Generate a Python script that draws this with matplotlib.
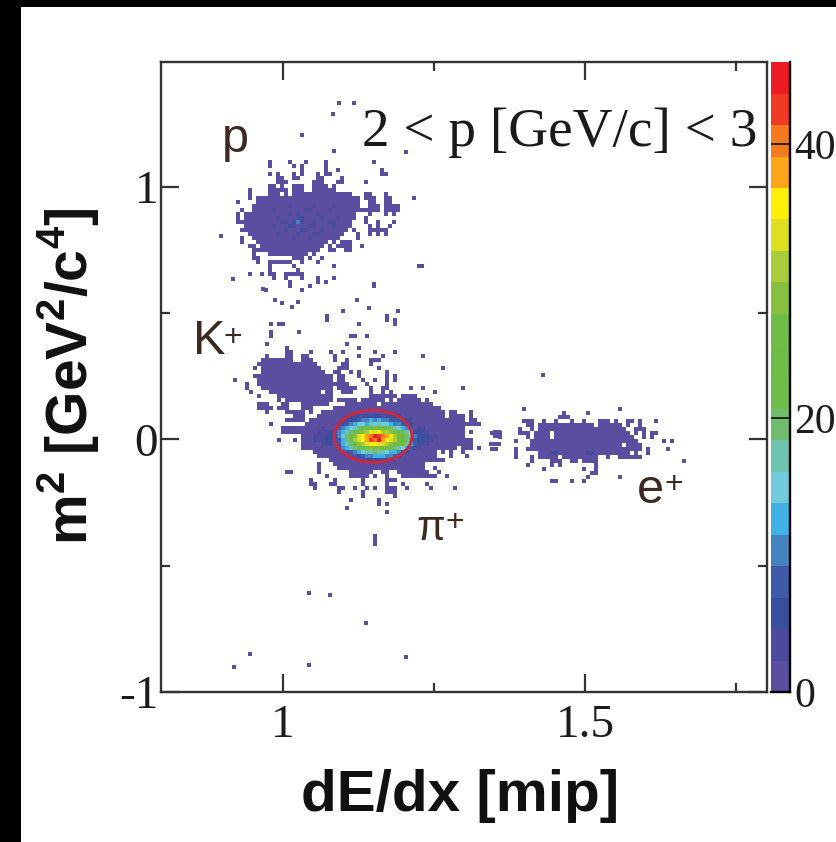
import numpy as np
import matplotlib
matplotlib.use("Agg")
import matplotlib.pyplot as plt
from matplotlib.colors import ListedColormap, BoundaryNorm
from matplotlib.patches import Ellipse, Rectangle

W, H = 837, 842
plt.rcParams['mathtext.fontset'] = 'custom'
plt.rcParams['mathtext.bf'] = 'Liberation Sans:bold'
plt.rcParams['mathtext.rm'] = 'Liberation Sans:bold'

# Colour scale (bottom to top), z axis 0..46
palette = ['#5B4DA0', '#4B4A9E', '#3A4EA0', '#3E5AA8', '#4582C0', '#3FB1E6', '#72CBDC',
           '#6FC4AF', '#70BD6F', '#6DBD48', '#6DBD45', '#6FBD44', '#88BF40', '#A8CC3A',
           '#DEDF20', '#FFEE07', '#FBA51A', '#F47A20', '#EF3A24', '#ED1C24']
z_max = 46.0
z_ticks = [0, 20, 40]

bin_dx = 4 / 604
bin_dy = 4 / 252.5

# Occupied histogram bins, row by row from the top.
# "a-b" = run of lowest-level bins, "a" = single bin, "a=levels" = bins with base-36 level.
proton_origin = (0.9222, 1.1208)
proton_rows = [
    "", "8 13 17 22 34", "8 14 16 22", "16 22 25 36", "8 10 14 16 20 22-23 36-37",
    "10-11 14-15 20-21 26", "10-11 12 19-20 21 25-26 32",
    "8-9 11 14-16 19-22 24", "3 8-12 14-16 19-23 24",
    "3 8-10 12 14-27 28 32-33 37", "3 5-30 32-34 37-38 44", "0 5-30 33-34 37-38",
    "4-30 33-35 37-40 12=01 19=1 24=1", "1 4-30 31-35 37-40 9=1 17=11 23=1",
    "0 2-29 33 37 39 12=0101 20=1", "0 2-29 32 10=1 15=12 21=1 25=1",
    "0-1 2-28 32 35 39 11=11 14=141 19=1 23=11",
    "2-28 33 35 38 9=1 13=21 18=11 24=1", "1-27 29 33-34 35-36 37 12=1 16=21 21=1",
    "3-26 30 33 35 37 10=1 15=1 19=11", "1 4-25 30 14=1 18=1",
    "1 5-22 24 26-28", "3-4 6-21 23 25-28 31", "4 5-20 23-24 27-28",
    "4 8-17 19", "4-5 14-16 18 21", "5 8-13 16 20", "8 14 24 46", "8 15",
    "3 6 8-9 12-16", "9 12 16 20 24", "13 20 22", "13 18 34", "7 16",
]
pion_origin = (0.9106, 0.4950)
pion_rows = [
    "24 39", "24 39 41", "10 12-13 32 41", "", "10 17", "10 30-31 34", "", "9 29",
    "14 32", "14-15 20 25 28 36 41", "9 14-15 18-19 26 32 38 48",
    "8-15 18-20 26 29 35-37", "7-21 28-29 35", "6 8-22 27-29 37 53",
    "8-23 26-27 30 32 39", "6-25 27-28 32 39 41", "1 7-25 27-28 33 36 39 41",
    "4 7-25 26-29 34 39", "4 8-25 27-31 35 38-39 45 48 58",
    "5 10-22 24-25 28-30 35 38 40 51", "7 12-25 35-37 38-41 43-46",
    "12 14 15-25 27-31 33-38 40 42-47 49",
    "7-9 13 14 18-24 29-36 38-48 49-50", "7-10 12-14 18-20 26-51 52",
    "9 14-18 20 23-52 53 55-56 60",
    "16-18 22-53 55-58 60 30=1121212211212",
    "14-18 20-58 60-61 29=12234454544333221",
    "10 19-59 60-62 28=234566576766544322",
    "13-18 19-58 23=1 27=3456789a9ba99876543 47=11",
    "13-58 60 66 67 22=11123 27=4578abcdeefddcba876 46=2211",
    "18-58 66 67 21=1112223 27=468acefghjihgfdba864 47=22211",
    "12 16 18-60 21=111222 27=358adefgihjgfedba853 47=2211",
    "18-56 57-60 65-67 23=112 27=3578acdeffeedcba9753 47=111",
    "18-56 58-60 62 28=45789abcbcba987653 46=11",
    "21-51 53 55 58 30=345677877655432", "22-51 55 59 32=23445554432",
    "25-53 33=1122211", "22 26-48", "22 27-48 51",
    "14-15 22 30-34 35 38-39 42-49 52", "24 30-34 36 39 43-51 54",
    "20 26 33 39-41", "20-21 25-26 33 39 43 49", "21 27-28 31 34 36 39-41 44 50 56",
    "27 33 39-41", "33 41", "30 37", "37 39", "29", "39",
    "", "", "", "", "", "36", "36", "36",
]
positron_origin = (1.3427, 0.1280)
positron_rows = [
    "8 32", "18 24", "17 18-19", "8-10 13 16 20 23 27-29 31 34-35 37 41",
    "9-10 12-14 15 16-21 22-25 27-32 34 37", "7 10 12-14 15-33 36-38",
    "0 2 7-9 11-14 16-34 36 38 40-41", "2 9 11-14 16-35 38 40",
    "6 10-36 43 45", "10-32 34-37", "0-1 6 9-37 39 44",
    "6 12-24 25-34 36 39 15=12 24=12", "6 10 12-16 18-26 29 32-37",
    "10 15-17 20-21 23-26 48", "9 15 17 26", "13 23 26", "25-26", "24 32", "15-16 20 23",
]
stray_x = [1.092, 1.118, 1.082, 1.032, 1.085, 1.203, 0.897, 0.917, 0.967, 0.998, 1.025, 1.015,
           0.987, 1.100, 1.123, 1.142, 1.190, 1.172, 1.073, 1.150, 1.225, 1.430,
           1.043, 1.078, 1.138, 0.945, 0.918, 1.043, 1.203]
stray_y = [1.331, 1.331, 1.287, 1.204, 1.141, 1.137, 0.804, 0.634, 0.594, 0.539, 0.543, 0.523,
           0.550, 0.507, 0.550, 0.519, 0.507, 0.479, 0.483, 0.614, 0.685, 0.253,
           -0.610, -0.618, -0.725, -0.851, -0.903, -0.895, -0.863]

selection_center = (1.149, 0.012)
selection_width = 0.129
selection_height = 0.206

x_ticks = [1, 1.5]
x_tick_labels = ['1', '1.5']
y_ticks = [-1, 0, 1]
y_tick_labels = ['-1', '0', '1']


def parse(rows):
    ncol = 90
    grid = np.full((len(rows), ncol), np.nan)
    for r, row in enumerate(rows):
        for tok in row.split():
            if '=' in tok:
                start, lv = tok.split('=')
                for k, ch in enumerate(lv):
                    grid[r, int(start) + k] = int(ch, 36)
            elif '-' in tok:
                a, b = tok.split('-')
                grid[r, int(a):int(b) + 1] = 0
            else:
                grid[r, int(tok)] = 0
    return (grid + 0.5) * z_max / len(palette)


def fx(p):
    return p / W


def fy(p):
    return 1 - p / H


fig = plt.figure(figsize=(W / 100, H / 100), dpi=100, facecolor='white')
ax = fig.add_axes([fx(161), fy(692), (767 - 161) / W, (692 - 62) / H])
cax = fig.add_axes([fx(771), fy(692), (790 - 771) / W, (692 - 62) / H])

cmap = ListedColormap(palette)
cmap.set_bad((1, 1, 1, 0))
bounds = np.linspace(0, z_max, len(palette) + 1)
norm = BoundaryNorm(bounds, len(palette))

mesh = None
for origin, rows in [(proton_origin, proton_rows), (pion_origin, pion_rows),
                     (positron_origin, positron_rows)]:
    g = parse(rows)
    xe = origin[0] + bin_dx * np.arange(g.shape[1] + 1)
    ye = origin[1] - bin_dy * np.arange(g.shape[0] + 1)
    mesh = ax.pcolormesh(xe, ye, np.ma.masked_invalid(g), cmap=cmap, norm=norm,
                         linewidth=0, antialiased=False, zorder=1)
ax.scatter(stray_x, stray_y, marker='s', s=8.5, color=palette[0], linewidths=0, zorder=1)
ax.add_patch(Ellipse(selection_center, selection_width, selection_height, fill=False,
                     edgecolor='#C62A40', linewidth=2.2, zorder=3))

ax.set_xlim(0.798, 1.801)
ax.set_ylim(-1, 1.493)
ax.set_xticks(x_ticks)
ax.set_xticklabels(x_tick_labels, family='Liberation Serif', fontsize=34, color='#1c1c1c')
ax.set_yticks(y_ticks)
ax.set_yticklabels(y_tick_labels, family='Liberation Serif', fontsize=34, color='#1c1c1c')
ax.set_xticks([1.25, 1.75], minor=True)
ax.set_yticks([-0.5, 0.5], minor=True)
ax.tick_params(which='major', direction='in', top=True, right=True, length=13, width=1.6,
               color='#333333')
ax.tick_params(which='minor', direction='in', top=True, right=True, length=6.5, width=1.6,
               color='#333333')
ax.tick_params(axis='x', which='major', pad=9)
ax.tick_params(axis='y', which='major', pad=2)
for s in ax.spines.values():
    s.set_linewidth(1.7)
    s.set_color('#333333')

cb = fig.colorbar(mesh, cax=cax, ticks=z_ticks, spacing='proportional', drawedges=False)
cb.outline.set_visible(False)
cax.spines['right'].set_visible(True)
cax.spines['bottom'].set_visible(True)
cax.spines['right'].set_linewidth(1.7)
cax.spines['bottom'].set_linewidth(1.7)
cax.tick_params(direction='in', length=13.7, width=1.2, color='#111111', right=True,
                labelsize=30, pad=3, labelcolor='#1c1c1c')
for t in cax.get_yticklabels():
    t.set_family('Liberation Serif')
cax.minorticks_off()

fig.text(fx(362), fy(146), '2 < p [GeV/c] < 3', family='Liberation Serif', fontsize=39.8,
         color='#1a1a1a', ha='left', va='baseline')
brown = '#3C2A22'
for label, size, px, py, plus in [('p', 35, 222, 152, None), ('K', 35, 193, 354, (224, 346)),
                                  ('\u03c0', 30, 416, 540, (446, 531)),
                                  ('e', 35, 637, 503, (665, 493))]:
    fig.text(fx(px), fy(py), label, family='Liberation Sans', fontsize=size, color=brown,
             ha='left', va='baseline')
    if plus:
        fig.text(fx(plus[0]), fy(plus[1]), '+', family='Liberation Sans', fontsize=23,
                 color=brown, ha='left', va='baseline')

fig.text(fx(460), fy(811), 'dE/dx [mip]', family='Liberation Sans', weight='bold', fontsize=42,
         color='#111111', ha='center', va='baseline')
fig.text(fx(88), fy(376), r'm$^{\mathbf{2}}$ [GeV$^{\mathbf{2}}$/c$^{\mathbf{4}}$]',
         family='Liberation Sans', weight='bold', fontsize=41, color='#111111',
         rotation=90, rotation_mode='anchor', ha='center', va='baseline')

# black scan border on the top and left of the page
fig.add_artist(Rectangle((0, fy(7)), 1, 7 / H, transform=fig.transFigure, color='black', lw=0))
fig.add_artist(Rectangle((0, 0), 21 / W, 1, transform=fig.transFigure, color='black', lw=0))

fig.savefig('out.png', dpi=100, facecolor='white')
